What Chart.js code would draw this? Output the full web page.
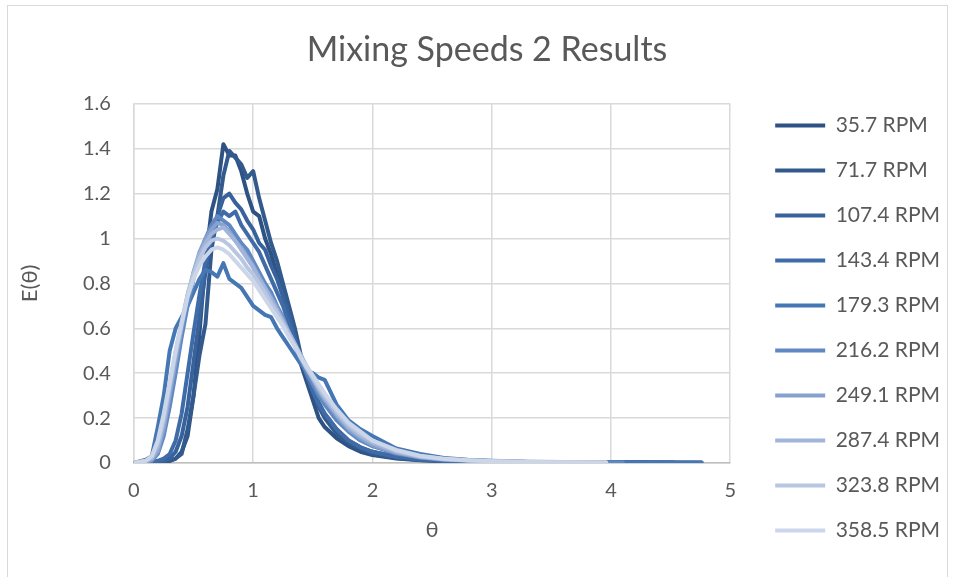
<!DOCTYPE html>
<html>
<head>
<meta charset="utf-8">
<title>Mixing Speeds 2 Results</title>
<script src="https://cdn.jsdelivr.net/npm/chart.js@4.4.0/dist/chart.umd.min.js"></script>
<style>
    html, body { margin: 0; padding: 0; background: #fff; }
    #contenedor { position: relative; width: 956px; height: 577px; overflow: hidden; }
    #marco { position: absolute; left: 7px; top: 5px; width: 941px; height: 600px; border: 1px solid #d9d9d9; box-sizing: border-box; }
    canvas { position: absolute; left: 0; top: 0; }
</style>
</head>
<body>
<div id="contenedor">
    <div id="marco"></div>
    <canvas id="graficaMezcla" width="956" height="577"></canvas>
</div>
<script>
// velocidades (leyenda)
const velocidades = ['35.7 RPM', '71.7 RPM', '107.4 RPM', '143.4 RPM', '179.3 RPM',
    '216.2 RPM', '249.1 RPM', '287.4 RPM', '323.8 RPM', '358.5 RPM'];

const colores = ['#2e5283', '#335a8d', '#38629b', '#3f6ca8', '#4677b5',
    '#6088c2', '#87a1ce', '#a1b4d9', '#b8c6e1', '#ccd6e9'];

// tiempo adimensional θ
const theta = [0, 0.1, 0.15, 0.2, 0.25, 0.3, 0.35, 0.4, 0.45, 0.5, 0.55, 0.6, 0.65, 0.7, 0.75,
    0.8, 0.85, 0.9, 0.95, 1.0, 1.05, 1.1, 1.15, 1.2, 1.25, 1.3, 1.35, 1.4, 1.45, 1.5, 1.55,
    1.6, 1.7, 1.8, 1.9, 2.0, 2.2, 2.4, 2.6, 2.8, 3.0, 3.3, 3.6, 3.96];

// E(θ) por velocidad
const e357 = [0, 0, 0, 0, 0, 0.01, 0.02, 0.05, 0.12, 0.3, 0.58, 0.9, 1.12, 1.22, 1.42, 1.37, 1.37, 1.3, 1.2, 1.12,
    1.1, 1.0, 0.93, 0.84, 0.76, 0.68, 0.54, 0.44, 0.36, 0.28, 0.2, 0.16, 0.11, 0.075, 0.05, 0.035, 0.02, 0.012, 0.008, 0.006,
    0.005, 0.004, 0.003, 0.003];
const e717 = [0, 0, 0, 0, 0.005, 0.01, 0.02, 0.04, 0.15, 0.3, 0.48, 0.62, 0.95, 1.1, 1.28, 1.39, 1.36, 1.33, 1.27, 1.3,
    1.18, 1.08, 0.98, 0.9, 0.8, 0.7, 0.6, 0.48, 0.4, 0.32, 0.25, 0.2, 0.13, 0.09, 0.06, 0.04, 0.022, 0.013, 0.009, 0.007,
    0.005, 0.004, 0.003, 0.003];
const e1074 = [0, 0, 0, 0.005, 0.01, 0.02, 0.05, 0.12, 0.25, 0.45, 0.65, 0.85, 1.0, 1.1, 1.18, 1.2, 1.16, 1.13, 1.08, 1.04,
    0.98, 0.95, 0.88, 0.82, 0.74, 0.66, 0.56, 0.47, 0.4, 0.33, 0.27, 0.22, 0.15, 0.1, 0.07, 0.05, 0.028, 0.016, 0.01, 0.007,
    0.005, 0.004, 0.003, 0.002];
const e1434 = [0, 0, 0.005, 0.01, 0.02, 0.04, 0.1, 0.22, 0.4, 0.58, 0.75, 0.9, 1.0, 1.07, 1.12, 1.1, 1.12, 1.06, 1.02, 0.98,
    0.94, 0.88, 0.82, 0.76, 0.7, 0.62, 0.54, 0.46, 0.39, 0.32, 0.26, 0.22, 0.15, 0.1, 0.07, 0.05, 0.028, 0.016, 0.01, 0.007,
    0.005, 0.004, 0.003, 0.002];
const e1793 = [0, 0.015, 0.03, 0.16, 0.3, 0.5, 0.6, 0.65, 0.7, 0.76, 0.82, 0.86, 0.85, 0.83, 0.89, 0.82, 0.8, 0.78, 0.74, 0.7,
    0.68, 0.66, 0.65, 0.6, 0.56, 0.52, 0.48, 0.44, 0.41, 0.4, 0.38, 0.37, 0.26, 0.19, 0.15, 0.12, 0.065, 0.04, 0.022, 0.014,
    0.01, 0.006, 0.004, 0.003];
const e2162 = [0, 0.005, 0.01, 0.04, 0.12, 0.25, 0.4, 0.56, 0.7, 0.82, 0.92, 1.0, 1.06, 1.1, 1.08, 1.06, 1.02, 0.98, 0.95, 0.9,
    0.85, 0.8, 0.76, 0.7, 0.65, 0.58, 0.52, 0.46, 0.4, 0.35, 0.3, 0.26, 0.19, 0.14, 0.1, 0.075, 0.042, 0.024, 0.015, 0.01,
    0.007, 0.005, 0.003, 0.002];
const e2491 = [0, 0.005, 0.015, 0.05, 0.15, 0.3, 0.45, 0.6, 0.74, 0.85, 0.94, 1.0, 1.04, 1.07, 1.06, 1.03, 0.99, 0.96, 0.92, 0.88,
    0.83, 0.78, 0.74, 0.69, 0.64, 0.58, 0.53, 0.47, 0.42, 0.37, 0.32, 0.28, 0.21, 0.15, 0.11, 0.08, 0.045, 0.026, 0.016, 0.011,
    0.008, 0.005, 0.003, 0.002];
const e2874 = [0, 0.008, 0.02, 0.07, 0.18, 0.33, 0.48, 0.62, 0.75, 0.85, 0.93, 0.98, 1.02, 1.04, 1.05, 1.02, 0.99, 0.95, 0.91, 0.87,
    0.82, 0.78, 0.73, 0.68, 0.63, 0.58, 0.53, 0.48, 0.43, 0.38, 0.33, 0.29, 0.22, 0.16, 0.12, 0.09, 0.05, 0.028, 0.017, 0.011,
    0.008, 0.005, 0.003, 0.002];
const e3238 = [0, 0.01, 0.03, 0.09, 0.2, 0.35, 0.5, 0.63, 0.75, 0.84, 0.91, 0.96, 0.99, 1.0, 0.99, 0.97, 0.94, 0.91, 0.87, 0.84,
    0.8, 0.76, 0.71, 0.67, 0.62, 0.57, 0.52, 0.47, 0.42, 0.38, 0.34, 0.3, 0.23, 0.17, 0.13, 0.1, 0.055, 0.03, 0.018, 0.012,
    0.008, 0.005, 0.003, 0.002];
const e3585 = [0, 0.01, 0.03, 0.1, 0.22, 0.36, 0.5, 0.62, 0.74, 0.82, 0.88, 0.92, 0.95, 0.96, 0.95, 0.93, 0.9, 0.87, 0.84, 0.81,
    0.77, 0.73, 0.69, 0.65, 0.61, 0.56, 0.52, 0.47, 0.43, 0.39, 0.35, 0.31, 0.24, 0.18, 0.14, 0.1, 0.058, 0.032, 0.019, 0.012,
    0.008, 0.005, 0.003, 0.002];

// último punto de cada curva (cola)
const colaTheta = [4.53, 4.76, 4.3, 4.2, 4.76, 4.1, 3.96, 3.96, 3.96, 3.96];
const colaE = [0.002, 0.002, 0.002, 0.002, 0.002, 0.002, 0.002, 0.002, 0.002, 0.002];

const series = [e357, e717, e1074, e1434, e1793, e2162, e2491, e2874, e3238, e3585];

const xTicks = [0, 1, 2, 3, 4, 5];
const yTicks = [0, 0.2, 0.4, 0.6, 0.8, 1, 1.2, 1.4, 1.6];

const gris = '#595959';
Chart.defaults.font.family = 'Lato, "Open Sans", "DejaVu Sans", sans-serif';
Chart.defaults.color = gris;

const datasets = velocidades.map((nombre, i) => ({
    label: nombre,
    data: theta.map((t, j) => ({ x: t, y: series[i][j] })).concat([{ x: colaTheta[i], y: colaE[i] }]),
    borderColor: colores[i],
    backgroundColor: colores[i],
    borderWidth: 4,
    pointRadius: 0,
    showLine: true,
    fill: false,
    tension: 0,
    borderJoinStyle: 'round',
    borderCapStyle: 'round',
    order: velocidades.length - i   // las claras encima, como en Excel
}));

// separar la leyenda del área del gráfico (como en Excel)
const moverLeyenda = {
    id: 'moverLeyenda',
    afterLayout(chart) {
        const ley = chart.legend;
        ley.left = chart.chartArea.right + 21;
        ley.right = chart.width;
    }
};

const ctx = document.getElementById('graficaMezcla').getContext('2d');

new Chart(ctx, {
    type: 'scatter',
    data: { datasets },
    plugins: [moverLeyenda],
    options: {
        responsive: false,
        animation: false,
        devicePixelRatio: 1,
        layout: { padding: { left: 45, right: 27, top: 0, bottom: 12 } },
        plugins: {
            tooltip: { enabled: false },
            title: {
                display: true,
                text: 'Mixing Speeds 2 Results',
                color: gris,
                font: { size: 34, weight: 'normal' },
                padding: { top: 30, bottom: 33 }
            },
            legend: {
                position: 'right',
                align: 'end',
                labels: {
                    usePointStyle: true,
                    pointStyle: 'line',
                    pointStyleWidth: 50,
                    color: gris,
                    font: { size: 21 },
                    padding: 24,
                    sort: (a, b) => a.datasetIndex - b.datasetIndex
                }
            }
        },
        scales: {
            x: {
                type: 'linear',
                min: 0,
                max: 5,
                afterBuildTicks: s => { s.ticks = xTicks.map(v => ({ value: v })); },
                ticks: { color: gris, font: { size: 20 }, padding: 16 },
                grid: { color: '#d9d9d9', lineWidth: 1.5, drawTicks: false },
                border: { color: '#bfbfbf', width: 1.5 },
                title: { display: true, text: 'θ', color: gris, font: { size: 22, lineHeight: 1 }, padding: { top: 0, bottom: 24 } }
            },
            y: {
                type: 'linear',
                min: 0,
                max: 1.6,
                afterBuildTicks: s => { s.ticks = yTicks.map(v => ({ value: v })); },
                ticks: { color: gris, font: { size: 20 }, padding: 23, callback: v => String(+v.toFixed(1)) },
                grid: { color: '#d9d9d9', lineWidth: 1.5, drawTicks: false },
                border: { color: '#d9d9d9', width: 1.5 },
                title: { display: true, text: 'E(θ)', color: gris, font: { size: 22, lineHeight: 1 }, padding: { top: -26, bottom: 19 } }
            }
        }
    }
});
</script>
</body>
</html>
